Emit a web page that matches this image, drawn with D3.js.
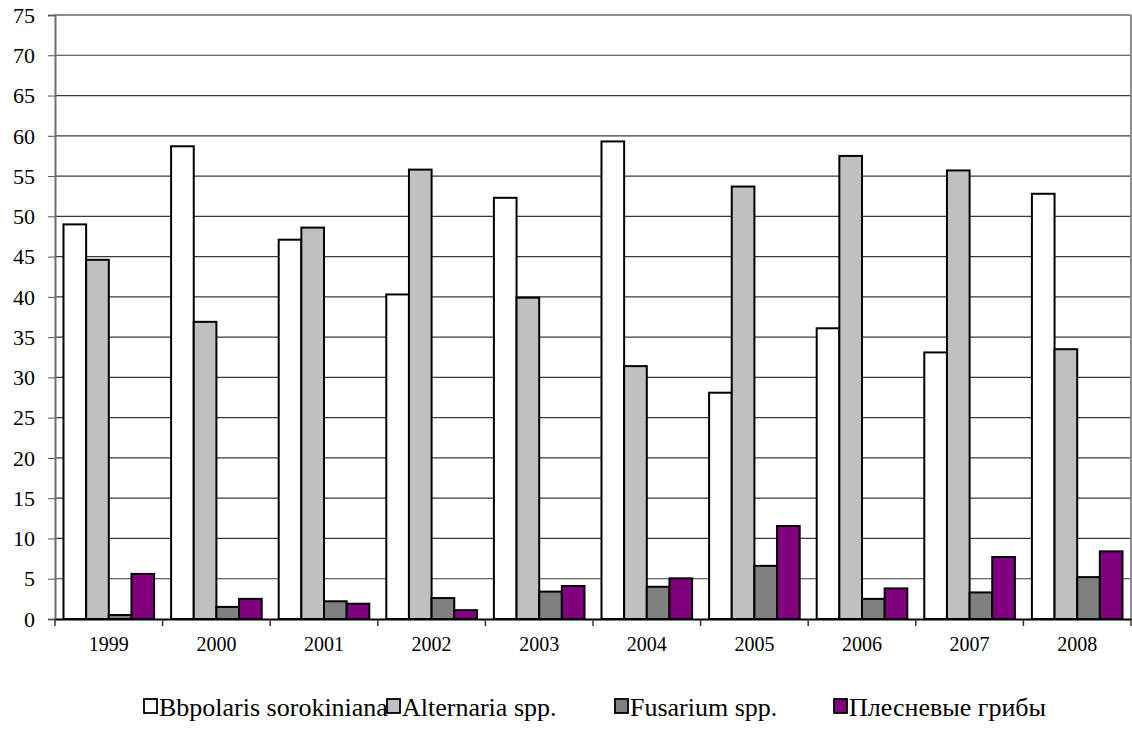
<!DOCTYPE html>
<html><head><meta charset="utf-8"><script src="https://cdn.jsdelivr.net/npm/d3@7"></script></head>
<body style="margin:0">
<script>
const years = ["1999", "2000", "2001", "2002", "2003", "2004", "2005", "2006", "2007", "2008"];
const seriesNames = ["Bbpolaris sorokiniana", "Alternaria spp.", "Fusarium spp.", "Плесневые грибы"];
const bipolaris = [49.0, 58.7, 47.1, 40.3, 52.3, 59.3, 28.1, 36.1, 33.1, 52.8];
const alternaria = [44.6, 36.9, 48.6, 55.8, 39.9, 31.4, 53.7, 57.5, 55.7, 33.5];
const fusarium = [0.5, 1.5, 2.2, 2.6, 3.4, 4.0, 6.6, 2.5, 3.3, 5.2];
const moulds = [5.6, 2.5, 1.9, 1.1, 4.1, 5.05, 11.55, 3.8, 7.7, 8.4];
const yTicks = [0, 5, 10, 15, 20, 25, 30, 35, 40, 45, 50, 55, 60, 65, 70, 75];

const colors = ["#ffffff", "#c0c0c0", "#808080", "#800080"];
const allSeries = [bipolaris, alternaria, fusarium, moulds];
const fam = "Liberation Serif";

const width = 1132, height = 735;
const plotLeft = 55, plotRight = 1131, plotTop = 15, plotBottom = 619;

const svg = d3.select("body").append("svg")
    .attr("width", width)
    .attr("height", height);

const x = d3.scaleBand()
    .domain(years)
    .range([plotLeft, plotRight]);

const xInner = d3.scaleBand()
    .domain(d3.range(seriesNames.length))
    .range([0, x.bandwidth()])
    .paddingOuter(0.375)
    .paddingInner(0);

const y = d3.scaleLinear()
    .domain([0, 75])
    .range([plotBottom, plotTop]);

// grid lines
svg.append("g")
    .selectAll("line")
    .data(yTicks.slice(1))
    .join("line")
    .attr("x1", plotLeft)
    .attr("x2", plotRight)
    .attr("y1", d => y(d))
    .attr("y2", d => y(d))
    .attr("stroke", d => d === 75 ? "#8c8c8c" : "#3a3a3a")
    .attr("stroke-width", d => d === 75 ? 2 : 1.2);

// right border
svg.append("line")
    .attr("x1", plotRight).attr("x2", plotRight)
    .attr("y1", plotTop).attr("y2", plotBottom)
    .attr("stroke", "#8c8c8c")
    .attr("stroke-width", 2);

// y axis: ticks and line only, labels drawn separately
const yAxis = svg.append("g")
    .attr("transform", `translate(${plotLeft},0)`)
    .call(d3.axisLeft(y).tickValues(yTicks).tickSize(7).tickFormat(""));
yAxis.select(".domain").attr("stroke", "#6e6e6e").attr("stroke-width", 2);
yAxis.selectAll(".tick line").attr("stroke", "#555");

svg.append("g")
    .selectAll("text")
    .data(yTicks)
    .join("text")
    .attr("x", plotLeft - 20)
    .attr("y", d => y(d))
    .attr("dy", "0.35em")
    .attr("text-anchor", "end")
    .style("font-family", () => `"${fam}"`)
    .attr("font-size", 22)
    .text(d => d);

// bars
const groups = svg.append("g")
    .selectAll("g")
    .data(years)
    .join("g")
    .attr("transform", d => `translate(${x(d)},0)`);

groups.selectAll("rect")
    .data((d, i) => allSeries.map((s, k) => ({ k: k, v: s[i] })))
    .join("rect")
    .attr("x", d => xInner(d.k))
    .attr("width", xInner.bandwidth())
    .attr("y", d => y(d.v))
    .attr("height", d => y(0) - y(d.v))
    .attr("fill", d => colors[d.k])
    .attr("stroke", "#000")
    .attr("stroke-width", 2);

// x axis line
const xAxis = svg.append("g")
    .attr("transform", `translate(0,${plotBottom})`)
    .call(d3.axisBottom(x).tickSize(0).tickFormat(""));
xAxis.select(".domain").attr("stroke", "#000").attr("stroke-width", 2);

svg.append("g")
    .selectAll("text")
    .data(years)
    .join("text")
    .attr("x", d => x(d) + x.bandwidth() / 2)
    .attr("y", plotBottom + 32)
    .attr("text-anchor", "middle")
    .style("font-family", () => `"${fam}"`)
    .attr("font-size", 20)
    .text(d => d);

// category separator ticks
svg.append("g")
    .selectAll("line")
    .data(years.concat(["end"]))
    .join("line")
    .attr("x1", d => d === "end" ? plotRight : x(d))
    .attr("x2", d => d === "end" ? plotRight : x(d))
    .attr("y1", plotBottom)
    .attr("y2", plotBottom + 7)
    .attr("stroke", "#333")
    .attr("stroke-width", 1.5);

// legend
const legendX = [143, 386, 614, 833];
const legend = svg.append("g")
    .selectAll("g")
    .data(seriesNames)
    .join("g")
    .attr("transform", (d, i) => `translate(${legendX[i]},0)`);

legend.append("rect")
    .attr("x", 1)
    .attr("y", 699)
    .attr("width", 13)
    .attr("height", 14)
    .attr("fill", (d, i) => colors[i])
    .attr("stroke", "#000")
    .attr("stroke-width", 1.8);

legend.append("text")
    .attr("x", 16)
    .attr("y", 716)
    .style("font-family", () => `"${fam}"`)
    .attr("font-size", 26)
    .text(d => d);
</script></body></html>
